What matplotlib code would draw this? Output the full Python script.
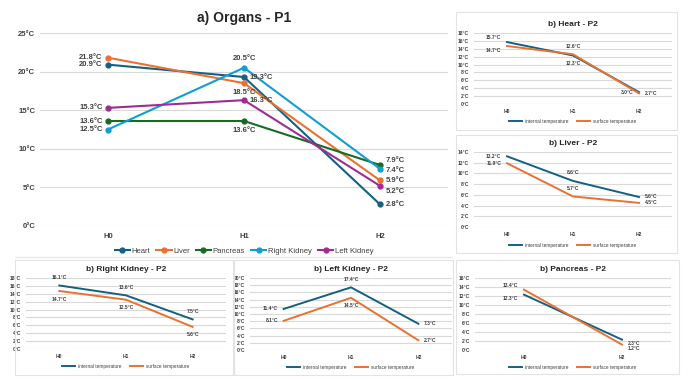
import matplotlib.pyplot as plt
from matplotlib.patches import Rectangle

plt.rcParams['font.family'] = ['Liberation Sans Narrow', 'Liberation Sans', 'DejaVu Sans']

W, H = 691, 382

hours = ['H0', 'H1', 'H2']
organs = ['Heart', 'Liver', 'Pancreas', 'Right Kidney', 'Left Kidney']
heart_p1 = [20.9, 19.3, 2.8]
liver_p1 = [21.8, 18.5, 5.9]
pancreas_p1 = [13.6, 13.6, 7.9]
rkidney_p1 = [12.5, 20.5, 7.4]
lkidney_p1 = [15.3, 16.3, 5.2]

heart_int = [15.7, 12.3, 3.0]
heart_surf = [14.7, 12.6, 2.7]
liver_int = [13.2, 8.6, 5.6]
liver_surf = [11.9, 5.7, 4.5]
rk_int = [16.1, 13.6, 7.5]
rk_surf = [14.7, 12.5, 5.6]
lk_int = [11.4, 17.4, 7.3]
lk_surf = [8.1, 14.5, 2.7]
pan_hours = ['H0', 'H2']
pan_int = [12.3, 2.3]
pan_surf = [13.4, 1.2]

colors = ['#156082', '#E97132', '#196B24', '#0F9ED5', '#A02B93']
c_int, c_surf = '#156082', '#E97132'
grid_c = '#d9d9d9'
txt_c = '#404040'


def rect(x0, y0, x1, y1):
    return [x0 / W, 1 - y1 / H, (x1 - x0) / W, (y1 - y0) / H]


def style_ax(ax, cats, ymax, step, tick_fs):
    ax.set_xlim(-0.5, len(cats) - 0.5)
    ax.set_ylim(0, ymax)
    ax.set_yticks(range(0, ymax + 1, step))
    ax.set_yticklabels([f'{v}°C' for v in range(0, ymax + 1, step)],
                       fontsize=tick_fs, fontweight='bold', color=txt_c)
    ax.set_xticks(range(len(cats)))
    ax.set_xticklabels(cats, fontsize=tick_fs, fontweight='bold', color=txt_c)
    ax.grid(axis='y', color=grid_c, lw=0.8)
    ax.set_axisbelow(True)
    ax.tick_params(length=0)
    for s in ax.spines.values():
        s.set_visible(False)
    ax.patch.set_alpha(0)


offs = {'l': (-4, 0, 'right', 'center'), 'r': (4, 0, 'left', 'center'),
        'a': (0, 4, 'center', 'bottom'), 'b': (0, -4, 'center', 'top'),
        'la': (-4, 3, 'right', 'center'), 'lb': (-4, -3, 'right', 'center'),
        'ra': (4, 3, 'left', 'center'), 'rb': (4, -3, 'left', 'center')}


def label(ax, x, y, pos, fs, dy=0):
    dx, ddy, ha, va = offs[pos]
    ax.annotate(f'{y}°C', (x, y), xytext=(dx, ddy + dy), textcoords='offset points',
                ha=ha, va=va, fontsize=fs, fontweight='bold', color=txt_c)


fig = plt.figure(figsize=(W / 100, H / 100), dpi=100)

# panel frames
for (x0, y0, x1, y1) in [(456, 12, 677, 130), (456, 135, 677, 253),
                         (15, 260, 233, 375), (234, 260, 453, 375),
                         (456, 260, 679, 374)]:
    fig.patches.append(Rectangle((x0 / W, 1 - y1 / H), (x1 - x0) / W, (y1 - y0) / H,
                                 transform=fig.transFigure, fill=False,
                                 ec='#e3e3e3', lw=0.8))
fig.patches.append(Rectangle((15 / W, 1 - 257 / H), 437 / W, 0.5 / H,
                             transform=fig.transFigure, color='#e8e8e8'))

# a) main panel
ax = fig.add_axes(rect(40, 33, 448, 226))
style_ax(ax, hours, 25, 5, 5.5)
ax.tick_params(axis='x', pad=5)
series = [heart_p1, liver_p1, pancreas_p1, rkidney_p1, lkidney_p1]
for vals, col, name in zip(series, colors, organs):
    ax.plot(range(3), vals, color=col, lw=1.5, marker='o', ms=3.5, label=name)
lab_pos = [['l', 'r', 'r'], ['l', 'b', 'r'], ['l', 'b', 'r'],
           ['l', 'a', 'r'], ['l', 'r', 'r']]
h2_dy = {0: 0, 1: 0, 2: 3, 3: -1, 4: -4}
for i, vals in enumerate(series):
    for j, v in enumerate(vals):
        dy = h2_dy[i] if j == 2 else 0
        label(ax, j, v, lab_pos[i][j], 5.5, dy=dy)
ax.set_title('a) Organs - P1', fontsize=10, fontweight='bold', color='#262626', pad=8)
ax.legend(loc='upper center', bbox_to_anchor=(0.5, -0.075), ncol=5, frameon=False,
          fontsize=5.5, handlelength=2.0, columnspacing=0.8, handletextpad=0.2,
          labelcolor=txt_c)


def p2_panel(box, cats, ymax, ints, surfs, title, pos_i, pos_s):
    a = fig.add_axes(rect(*box))
    style_ax(a, cats, ymax, 2, 3.6)
    a.plot(range(len(cats)), ints, color=c_int, lw=1.4, label='internal temperature')
    a.plot(range(len(cats)), surfs, color=c_surf, lw=1.4, label='surface temperature')
    for j, v in enumerate(ints):
        label(a, j, v, pos_i[j], 3.6)
    for j, v in enumerate(surfs):
        label(a, j, v, pos_s[j], 3.6)
    a.set_title(title, fontsize=6, fontweight='bold', color='#262626', pad=5)
    a.legend(loc='upper center', bbox_to_anchor=(0.5, -0.15), ncol=2, frameon=False,
             fontsize=3.4, handlelength=2.6, columnspacing=1.8, labelcolor=txt_c)
    return a


p2_panel((474, 33, 672, 104), hours, 18, heart_int, heart_surf, 'b) Heart - P2',
         ['la', 'b', 'l'], ['lb', 'a', 'r'])
p2_panel((474, 152, 672, 227), hours, 14, liver_int, liver_surf, 'b) Liver - P2',
         ['l', 'a', 'r'], ['l', 'a', 'r'])
p2_panel((26, 278, 226, 349), hours, 18, rk_int, rk_surf, 'b) Right Kidney - P2',
         ['a', 'a', 'a'], ['b', 'b', 'b'])
p2_panel((250, 278, 452, 350), hours, 20, lk_int, lk_surf, 'b) Left Kidney - P2',
         ['l', 'a', 'r'], ['l', 'b', 'r'])
p2_panel((475, 278, 671, 350), pan_hours, 16, pan_int, pan_surf, 'b) Pancreas - P2',
         ['lb', 'rb'], ['la', 'rb'])

fig.savefig('out.png', dpi=100)
